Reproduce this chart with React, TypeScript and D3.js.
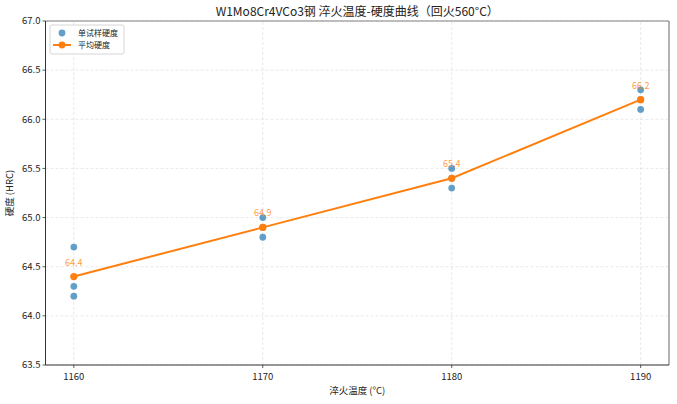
import React from 'react';
import * as d3 from 'd3';

const temps = [1160, 1170, 1180, 1190];
const sampleTemps = [1160, 1160, 1160, 1170, 1170, 1170, 1180, 1180, 1180, 1190, 1190, 1190];
const sampleHardness = [64.7, 64.3, 64.2, 65.0, 64.9, 64.8, 65.5, 65.4, 65.3, 66.3, 66.2, 66.1];
const meanHardness = [64.4, 64.9, 65.4, 66.2];
const yTicks = [63.5, 64.0, 64.5, 65.0, 65.5, 66.0, 66.5, 67.0];

const W = 677;
const H = 404;
const margin = { top: 21, right: 8, bottom: 39, left: 45.5 };
const font = '"Noto Sans CJK SC", "Noto Sans", sans-serif';

export default function App() {
  const x = d3
    .scaleLinear()
    .domain([1158.5, 1191.5])
    .range([margin.left, W - margin.right]);
  const y = d3
    .scaleLinear()
    .domain([63.5, 67.0])
    .range([H - margin.bottom, margin.top]);

  const line = d3
    .line<number>()
    .x((_, i) => x(temps[i]))
    .y((d) => y(d));

  const x0 = margin.left;
  const x1 = W - margin.right;
  const y0 = H - margin.bottom;
  const y1 = margin.top;

  return (
    <svg
      width={W}
      height={H}
      style={{ position: 'absolute', left: 0, top: 0, background: '#fff' }}
      fontFamily={font}
    >
      {/* grid */}
      {temps.map((t) => (
        <line key={'gx' + t} x1={x(t)} x2={x(t)} y1={y0} y2={y1} stroke="#b0b0b0" strokeOpacity={0.35} strokeDasharray="3,2" strokeWidth={0.8} />
      ))}
      {yTicks.map((v) => (
        <line key={'gy' + v} x1={x0} x2={x1} y1={y(v)} y2={y(v)} stroke="#b0b0b0" strokeOpacity={0.35} strokeDasharray="3,2" strokeWidth={0.8} />
      ))}

      {/* mean line */}
      <path d={line(meanHardness) || ''} fill="none" stroke="#ff7f0e" strokeWidth={2} />

      {/* samples */}
      {sampleHardness.map((v, i) => (
        <circle key={'s' + i} cx={x(sampleTemps[i])} cy={y(v)} r={3.4} fill="#1f77b4" fillOpacity={0.7} />
      ))}

      {/* mean markers */}
      {meanHardness.map((v, i) => (
        <circle key={'m' + i} cx={x(temps[i])} cy={y(v)} r={3.6} fill="#ff7f0e" />
      ))}

      {/* value labels */}
      {meanHardness.map((v, i) => (
        <text key={'l' + i} x={x(temps[i])} y={y(v) - 11} textAnchor="middle" fontSize={9} fill="#ff7f0e" fillOpacity={0.8}>
          {v.toFixed(1)}
        </text>
      ))}

      {/* spines */}
      <line x1={x0} x2={x1} y1={y1} y2={y1} stroke="#808080" strokeWidth={1.2} />
      <line x1={x1} x2={x1} y1={y1} y2={y0} stroke="#808080" strokeWidth={1.2} />
      <line x1={x0} x2={x0} y1={y1} y2={y0} stroke="#333" strokeWidth={1} />
      <line x1={x0} x2={x1} y1={y0} y2={y0} stroke="#333" strokeWidth={1} />

      {/* y ticks */}
      {yTicks.map((v) => (
        <g key={'yt' + v}>
          <line x1={x0 - 3} x2={x0} y1={y(v)} y2={y(v)} stroke="#333" strokeWidth={0.8} />
          <text x={x0 - 5} y={y(v)} dy="0.35em" textAnchor="end" fontSize={9.5} fill="#222">
            {v.toFixed(1)}
          </text>
        </g>
      ))}

      {/* x ticks */}
      {temps.map((t) => (
        <g key={'xt' + t}>
          <line x1={x(t)} x2={x(t)} y1={y0} y2={y0 + 3} stroke="#333" strokeWidth={0.8} />
          <text x={x(t)} y={y0 + 15} textAnchor="middle" fontSize={9.5} fill="#222">
            {t}
          </text>
        </g>
      ))}

      {/* axis labels */}
      <text x={(x0 + x1) / 2} y={394} textAnchor="middle" fontSize={9.5} fill="#222">
        淬火温度 (°C)
      </text>
      <text transform={`translate(13,${(y0 + y1) / 2}) rotate(-90)`} textAnchor="middle" fontSize={9.5} fill="#222">
        硬度 (HRC)
      </text>

      {/* title */}
      <text x={(x0 + x1) / 2} y={16} textAnchor="middle" fontSize={12} fill="#222">
        W1Mo8Cr4VCo3钢 淬火温度-硬度曲线（回火560°C）
      </text>

      {/* legend */}
      <rect x={50} y={25} width={74} height={29} rx={2} fill="#fff" fillOpacity={0.8} stroke="#ccc" strokeWidth={0.8} />
      <circle cx={62} cy={33} r={3.4} fill="#1f77b4" fillOpacity={0.7} />
      <text x={78} y={33} dy="0.35em" fontSize={8} fill="#222">单试样硬度</text>
      <line x1={53} x2={71} y1={45} y2={45} stroke="#ff7f0e" strokeWidth={2} />
      <circle cx={62} cy={45} r={3.4} fill="#ff7f0e" />
      <text x={78} y={45} dy="0.35em" fontSize={8} fill="#222">平均硬度</text>
    </svg>
  );
}
